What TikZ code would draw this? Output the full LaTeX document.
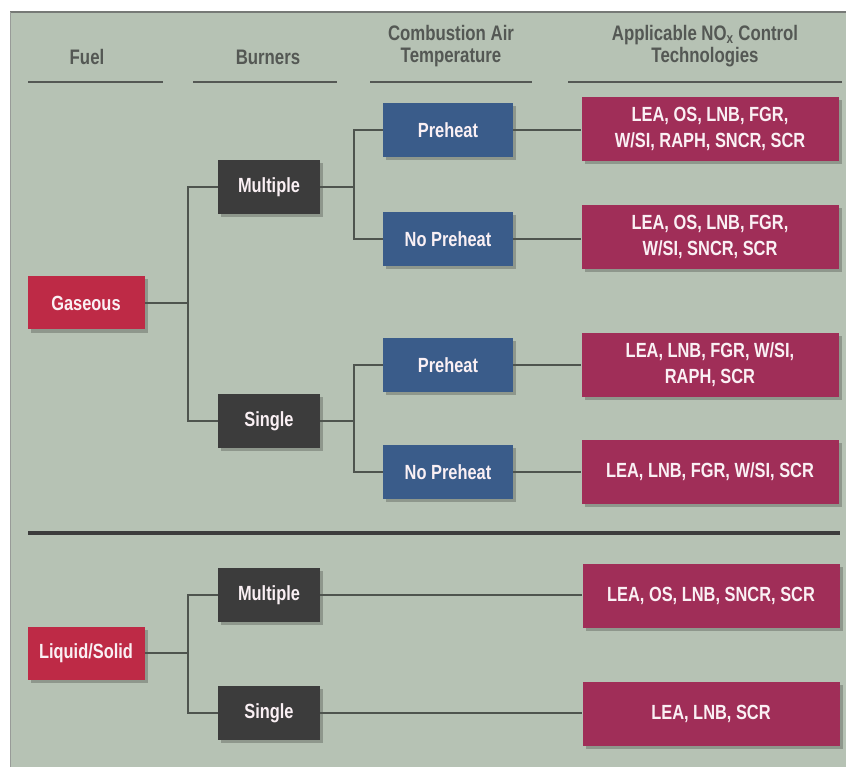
\documentclass[tikz,border=0pt]{standalone}
\usepackage{fontspec}
\setmainfont{Liberation Sans}[FakeStretch=0.8]
\usetikzlibrary{shadows}
\definecolor{panel}{RGB}{182,194,180}
\definecolor{hdr}{RGB}{84,88,84}
\definecolor{fuelred}{RGB}{190,42,70}
\definecolor{techred}{RGB}{160,46,88}
\definecolor{burn}{RGB}{60,60,60}
\definecolor{temp}{RGB}{58,92,138}
\definecolor{wire}{RGB}{78,84,78}
\definecolor{boxtext}{RGB}{250,240,244}
\begin{document}
\begin{tikzpicture}[x=1pt,y=-1pt,
  base/.style={rectangle, inner sep=0pt, text=boxtext, align=center,
    font=\bfseries\fontsize{20.5}{26}\selectfont,
    drop shadow={shadow xshift=3pt, shadow yshift=-3pt, fill=black, opacity=0.22}},
  fuelbox/.style={base, fill=fuelred, minimum width=117pt, minimum height=53pt},
  burnbox/.style={base, fill=burn, minimum width=102pt, minimum height=54pt},
  tempbox/.style={base, fill=temp, minimum width=130pt, minimum height=54pt},
  techbox/.style={base, fill=techred, minimum width=257pt, minimum height=64pt},
  head/.style={text=hdr, align=center, font=\bfseries\fontsize{21}{22}\selectfont},
  rule/.style={hdr, line width=2pt},
  wire/.style={draw=wire, line width=1.4pt}]
\useasboundingbox (0,0) rectangle (846,767);
\fill[white] (0,0) rectangle (846,767);
\fill[panel] (10,12) rectangle (846,767);
\draw[hdr!80, line width=1.5pt] (10,12) -- (846,12);
\draw[hdr!60, line width=0.8pt] (10,12) -- (10,767);

% headers
\node[head] (hfuel) at (87,57) {Fuel};
\node[head] (hburn) at (268,57) {Burners};
\node[head] (htemp) at (451,46) {Combustion Air\\Temperature};
\node[head] (htech) at (705,46) {Applicable NO\textsubscript{x} Control\\Technologies};
\draw[rule] (28,82) -- (163,82);
\draw[rule] (193,82) -- (337,82);
\draw[rule] (370,82) -- (532,82);
\draw[rule] (568,82) -- (842,82);

% separator
\draw[line width=4pt, color=burn] (28,533) -- (840,533);

% gaseous branch
\node[fuelbox] (gas) at (86,303) {Gaseous};
\node[burnbox] (gmul) at (269,187) {Multiple};
\node[burnbox] (gsin) at (269,421) {Single};
\node[tempbox] (gmp) at (448,130) {Preheat};
\node[tempbox] (gmn) at (448,239) {No Preheat};
\node[tempbox] (gsp) at (448,365) {Preheat};
\node[tempbox] (gsn) at (448,472) {No Preheat};
\node[techbox] (t1) at (710,129) {LEA, OS, LNB, FGR,\\W/SI, RAPH, SNCR, SCR};
\node[techbox] (t2) at (710,237) {LEA, OS, LNB, FGR,\\W/SI, SNCR, SCR};
\node[techbox] (t3) at (710,365) {LEA, LNB, FGR, W/SI,\\RAPH, SCR};
\node[techbox] (t4) at (710,472) {LEA, LNB, FGR, W/SI, SCR};

% liquid/solid branch
\node[fuelbox] (liq) at (86,653) {Liquid/Solid};
\node[burnbox] (lmul) at (269,595) {Multiple};
\node[burnbox] (lsin) at (269,713) {Single};
\node[techbox] (t5) at (711,596) {LEA, OS, LNB, SNCR, SCR};
\node[techbox] (t6) at (711,714) {LEA, LNB, SCR};

% junction coordinates
\coordinate (gj) at (188,303);
\coordinate (mj) at (354,187);
\coordinate (sj) at (354,421);
\coordinate (lj) at (188,653);

% connectors
\draw[wire] (gas.east) -- (gj);
\draw[wire] (gmul.west) -- (gmul.west -| gj) -- (gsin.west -| gj) -- (gsin.west);
\draw[wire] (gmul.east) -- (mj);
\draw[wire] (gmp.west) -- (gmp.west -| mj) -- (gmn.west -| mj) -- (gmn.west);
\draw[wire] (gsin.east) -- (sj);
\draw[wire] (gsp.west) -- (gsp.west -| sj) -- (gsn.west -| sj) -- (gsn.west);
\draw[wire] (gmp.east) -- (gmp.east -| t1.west);
\draw[wire] (gmn.east) -- (gmn.east -| t2.west);
\draw[wire] (gsp.east) -- (gsp.east -| t3.west);
\draw[wire] (gsn.east) -- (gsn.east -| t4.west);

\draw[wire] (liq.east) -- (lj);
\draw[wire] (lmul.west) -- (lmul.west -| lj) -- (lsin.west -| lj) -- (lsin.west);
\draw[wire] (lmul.east) -- (lmul.east -| t5.west);
\draw[wire] (lsin.east) -- (lsin.east -| t6.west);
\end{tikzpicture}
\end{document}
